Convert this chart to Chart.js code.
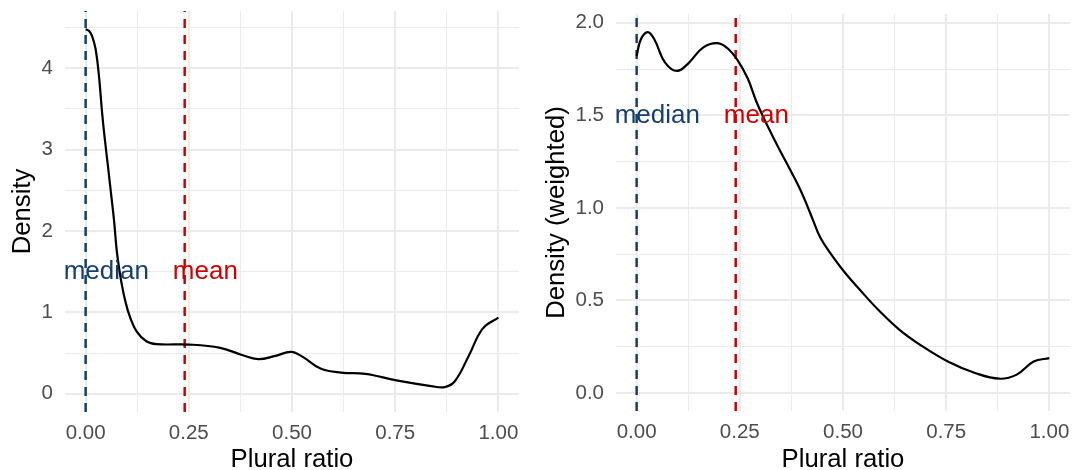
<!DOCTYPE html>
<html>
<head>
<meta charset="utf-8">
<script src="https://cdn.jsdelivr.net/npm/chart.js@4.4.1/dist/chart.umd.min.js"></script>
<style>
body { margin: 0; background: #fff; }
#wrap { position: relative; width: 1075px; height: 470px; }
canvas { position: absolute; top: 0; }
</style>
</head>
<body>
<div id="wrap">
  <canvas id="left" width="537" height="470" style="left:0"></canvas>
  <canvas id="right" width="538" height="470" style="left:537px"></canvas>
</div>
<script>
// density curve, left panel (unweighted)
var leftX = [0, 0.008, 0.016, 0.024, 0.032, 0.040, 0.046, 0.054, 0.060, 0.069, 0.076, 0.087, 0.097, 0.107, 0.123, 0.147, 0.172,
  0.251, 0.326, 0.377, 0.418, 0.460, 0.498, 0.527, 0.569, 0.619, 0.678, 0.753, 0.837, 0.870, 0.895, 0.929, 0.962, 1.000];
var leftY = [4.48, 4.46, 4.39, 4.24, 3.92, 3.45, 3.15, 2.80, 2.53, 2.12, 1.73, 1.36, 1.12, 0.95, 0.77, 0.645, 0.61,
  0.605, 0.565, 0.48, 0.425, 0.466, 0.515, 0.45, 0.31, 0.26, 0.245, 0.165, 0.095, 0.082, 0.157, 0.474, 0.80, 0.936];

// density curve, right panel (weighted)
var rightX = [0, 0.010, 0.027, 0.043, 0.069, 0.098, 0.127, 0.160, 0.194, 0.219, 0.244, 0.269, 0.290, 0.320, 0.345,
  0.371, 0.392, 0.410, 0.428, 0.445, 0.468, 0.503, 0.545, 0.586, 0.637, 0.687, 0.754, 0.820, 0.879, 0.921, 0.962, 1.000];
var rightY = [1.82, 1.91, 1.95, 1.91, 1.785, 1.74, 1.785, 1.865, 1.89, 1.865, 1.80, 1.70, 1.575, 1.43, 1.32,
  1.21, 1.12, 1.03, 0.93, 0.84, 0.76, 0.655, 0.547, 0.448, 0.341, 0.26, 0.17, 0.108, 0.077, 0.099, 0.17, 0.188];

// reference lines
var medianVal = 0;
var meanVal = 0.24;
var labelY = 1.5;
var labelShift = 0.05;

// ticks
var xMajor = [0, 0.25, 0.5, 0.75, 1];
var xMinor = [0.125, 0.375, 0.625, 0.875];
var leftYMajor = [0, 1, 2, 3, 4];
var leftYMinor = [0.5, 1.5, 2.5, 3.5, 4.5];
var rightYMajor = [0, 0.5, 1, 1.5, 2];
var rightYMinor = [0.25, 0.75, 1.25, 1.75];

var FONT = '"Liberation Sans", Arial, Helvetica, sans-serif';
var BLUE = '#163f6e';
var RED = '#d10000';
var GRID = '#ebebeb';

function toPoints(xs, ys) {
  return xs.map(function (x, i) { return { x: x, y: ys[i] }; });
}

function isIn(list, v) {
  return list.some(function (m) { return Math.abs(m - v) < 1e-9; });
}

// draws "median" / "mean" text at data positions
var labelPlugin = {
  id: 'refLabels',
  afterDatasetsDraw: function (chart) {
    var ctx = chart.ctx;
    var xs = chart.scales.x, ys = chart.scales.y;
    ctx.save();
    ctx.font = '26px ' + FONT;
    ctx.textAlign = 'center';
    ctx.textBaseline = 'middle';
    ctx.fillStyle = BLUE;
    ctx.fillText('median', xs.getPixelForValue(medianVal + labelShift), ys.getPixelForValue(labelY));
    ctx.fillStyle = RED;
    ctx.fillText('mean', xs.getPixelForValue(meanVal + labelShift), ys.getPixelForValue(labelY));
    ctx.restore();
  }
};

function noPad(s) {
  s.paddingLeft = 0; s.paddingRight = 0; s.paddingTop = 0; s.paddingBottom = 0;
}

function makeChart(id, xs, ys, yMajor, yMinor, yTitle, yFmt, yWidth, yTitlePad, pad, plotBottom) {
  var maxY = Math.max.apply(null, ys);
  var yMin = -0.05 * maxY, yMax = 1.05 * maxY;
  var yTicks = yMajor.concat(yMinor).sort(function (a, b) { return a - b; });
  var xTicks = xMajor.concat(xMinor).sort(function (a, b) { return a - b; });

  var vline = function (v, color) {
    return {
      data: [{ x: v, y: yMin }, { x: v, y: yMax }],
      borderColor: color, borderWidth: 2.5, borderDash: [9, 7],
      pointRadius: 0, fill: false
    };
  };

  return new Chart(document.getElementById(id), {
    type: 'line',
    data: {
      datasets: [
        {
          data: toPoints(xs, ys),
          borderColor: '#000', borderWidth: 2.2,
          tension: 0.4,
          pointRadius: 0, fill: false
        },
        vline(medianVal, BLUE),
        vline(meanVal, RED)
      ]
    },
    options: {
      responsive: false,
      animation: false,
      layout: { padding: pad },
      plugins: { legend: { display: false }, tooltip: { enabled: false } },
      scales: {
        x: {
          type: 'linear', min: -0.05, max: 1.05,
          afterBuildTicks: function (s) { s.ticks = xTicks.map(function (v) { return { value: v }; }); },
          afterFit: function (s) { s.height = 470 - plotBottom; noPad(s); },
          border: { display: false },
          grid: {
            drawTicks: false,
            color: GRID,
            lineWidth: function (c) { return isIn(xMajor, c.tick.value) ? 2 : 1; }
          },
          ticks: {
            autoSkip: false, maxRotation: 0, padding: 9,
            color: '#4d4d4d', font: { family: FONT, size: 20.5 },
            callback: function (v) { return isIn(xMajor, v) ? v.toFixed(2) : ''; }
          },
          title: {
            display: true, text: 'Plural ratio', color: '#000',
            font: { family: FONT, size: 25.7, lineHeight: 1 },
            padding: { top: 0, bottom: -3 }
          }
        },
        y: {
          type: 'linear', min: yMin, max: yMax,
          afterBuildTicks: function (s) { s.ticks = yTicks.map(function (v) { return { value: v }; }); },
          afterFit: function (s) { s.width = yWidth; noPad(s); },
          border: { display: false },
          grid: {
            drawTicks: false,
            color: GRID,
            lineWidth: function (c) { return isIn(yMajor, c.tick.value) ? 2 : 1; }
          },
          ticks: {
            autoSkip: false, padding: 12,
            color: '#4d4d4d', font: { family: FONT, size: 20.5 },
            callback: function (v) { return isIn(yMajor, v) ? yFmt(v) : ''; }
          },
          title: {
            display: true, text: yTitle, color: '#000',
            font: { family: FONT, size: 25.7, lineHeight: 1 },
            padding: { top: yTitlePad, bottom: 0 }
          }
        }
      }
    },
    plugins: [labelPlugin]
  });
}

makeChart('left', leftX, leftY, leftYMajor, leftYMinor, 'Density',
  function (v) { return String(v); }, 65, 10,
  { left: 0, right: 18, top: 11, bottom: 0 }, 412);

makeChart('right', rightX, rightY, rightYMajor, rightYMinor, 'Density (weighted)',
  function (v) { return v.toFixed(1); }, 79, 7,
  { left: 0, right: 5, top: 14, bottom: 0 }, 411);
</script>
</body>
</html>
